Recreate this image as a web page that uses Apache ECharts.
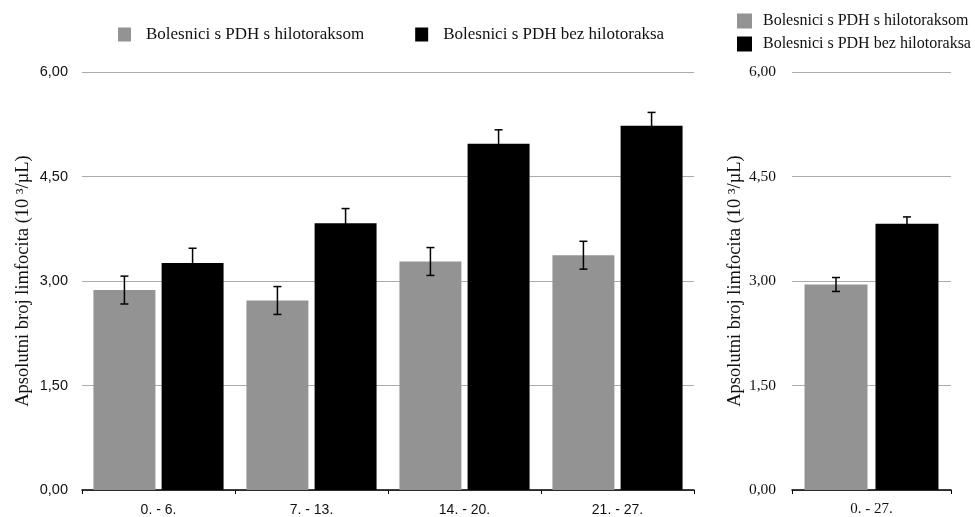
<!DOCTYPE html>
<html>
<head>
<meta charset="utf-8">
<script src="https://cdn.jsdelivr.net/npm/echarts@6/dist/echarts.min.js"></script>
<style>
html,body{margin:0;padding:0;background:#fff;}
#chart{width:975px;height:517px;}
</style>
</head>
<body>
<div id="chart"></div>
<script>
var categories = ['0. - 6.', '7. - 13.', '14. - 20.', '21. - 27.'];
var withChyloMean = [2.87, 2.72, 3.28, 3.37];
var withChyloErr = [0.20, 0.20, 0.20, 0.20];
var withoutChyloMean = [3.26, 3.83, 4.97, 5.23];
var withoutChyloErr = [0.21, 0.21, 0.20, 0.19];

var totalCategories = ['0. - 27.'];
var totalWithMean = [2.95];
var totalWithErr = [0.10];
var totalWithoutMean = [3.82];
var totalWithoutErr = [0.10];

var yTicks = [0, 1.5, 3, 4.5, 6];

var nameWith = 'Bolesnici s PDH s hilotoraksom';
var nameWithout = 'Bolesnici s PDH bez hilotoraksa';
var yName = 'Apsolutni broj limfocita (10 \u00B3/\u00B5L)';

var GRAY = '#939393';
var SERIF = '"Liberation Serif", "Times New Roman", serif';
var SANS = '"Liberation Sans", Arial, sans-serif';

function fmt(v){ return v.toFixed(2).replace('.', ','); }

function errData(means, errs){
  return means.map(function(m, i){ return [i, m - errs[i], m + errs[i]]; });
}

function makeErrRender(barPct, gapPct, side){
  return function(params, api){
    var idx = api.value(0);
    var lo = api.coord([idx, api.value(1)]);
    var hi = api.coord([idx, api.value(2)]);
    var band = api.size([1, 0])[0];
    var bw = band * barPct;
    var gap = bw * gapPct;
    var x = lo[0] + side * (bw + gap) / 2;
    var cap = 4;
    var style = {stroke: '#000', lineWidth: 1.5};
    return {
      type: 'group',
      children: [
        {type: 'line', shape: {x1: x, y1: lo[1], x2: x, y2: hi[1]}, style: style},
        {type: 'line', shape: {x1: x - cap, y1: hi[1], x2: x + cap, y2: hi[1]}, style: style},
        {type: 'line', shape: {x1: x - cap, y1: lo[1], x2: x + cap, y2: lo[1]}, style: style}
      ]
    };
  };
}

var yAxisCommon = function(font, size, margin, gap){
  return {
    type: 'value', min: 0, max: 6, interval: 1.5,
    axisLine: {show: false}, axisTick: {show: false},
    splitLine: {lineStyle: {color: '#ababab', width: 1}},
    axisLabel: {formatter: fmt, fontFamily: font, fontSize: size, color: '#111', margin: margin},
    name: yName, nameLocation: 'middle', nameRotate: 90, nameGap: gap,
    nameMoveOverlap: false,
    nameTextStyle: {fontFamily: SERIF, fontSize: 18.5, color: '#111'}
  };
};

var chart = echarts.init(document.getElementById('chart'));
chart.setOption({
  animation: false,
  backgroundColor: '#fff',
  legend: [
    {
      data: [nameWith, nameWithout],
      left: 113, top: 21, orient: 'horizontal',
      itemWidth: 13, itemHeight: 14, itemGap: 51,
      icon: 'rect',
      textStyle: {fontFamily: SERIF, fontSize: 17, color: '#111', padding: [0, 0, 0, 10]}
    },
    {
      data: [nameWith, nameWithout],
      left: 732, top: 8, orient: 'vertical',
      itemWidth: 15, itemHeight: 15, itemGap: 7,
      icon: 'rect',
      textStyle: {fontFamily: SERIF, fontSize: 16, color: '#111', padding: [0, 0, 0, 6]}
    }
  ],
  grid: [
    {left: 82, right: 281, top: 72, bottom: 27},
    {left: 792, width: 159, top: 72, bottom: 27}
  ],
  xAxis: [
    {
      type: 'category', gridIndex: 0, data: categories,
      axisLine: {lineStyle: {color: '#000', width: 1.5}},
      axisTick: {show: true, inside: false, length: 4, lineStyle: {color: '#000'}},
      axisLabel: {fontFamily: SANS, fontSize: 14, color: '#111', margin: 13}
    },
    {
      type: 'category', gridIndex: 1, data: totalCategories,
      axisLine: {lineStyle: {color: '#000', width: 1.5}},
      axisTick: {show: true, length: 4, lineStyle: {color: '#000'}},
      axisLabel: {fontFamily: SERIF, fontSize: 15, color: '#111', margin: 12}
    }
  ],
  yAxis: [
    Object.assign({gridIndex: 0}, yAxisCommon(SANS, 14.5, 14, 49)),
    Object.assign({gridIndex: 1}, yAxisCommon(SERIF, 15.5, 16, 47))
  ],
  series: [
    {
      name: nameWith, type: 'bar', xAxisIndex: 0, yAxisIndex: 0,
      data: withChyloMean, barWidth: '40.5%', barGap: '10%',
      itemStyle: {color: GRAY}
    },
    {
      name: nameWithout, type: 'bar', xAxisIndex: 0, yAxisIndex: 0,
      data: withoutChyloMean, barWidth: '40.5%', barGap: '10%',
      itemStyle: {color: '#000'}
    },
    {
      name: nameWith, type: 'bar', xAxisIndex: 1, yAxisIndex: 1,
      data: totalWithMean, barWidth: '39.6%', barGap: '12.7%',
      itemStyle: {color: GRAY}
    },
    {
      name: nameWithout, type: 'bar', xAxisIndex: 1, yAxisIndex: 1,
      data: totalWithoutMean, barWidth: '39.6%', barGap: '12.7%',
      itemStyle: {color: '#000'}
    },
    {
      name: 'errWith', type: 'custom', xAxisIndex: 0, yAxisIndex: 0, z: 10,
      renderItem: makeErrRender(0.405, 0.10, -1),
      data: errData(withChyloMean, withChyloErr)
    },
    {
      name: 'errWithout', type: 'custom', xAxisIndex: 0, yAxisIndex: 0, z: 10,
      renderItem: makeErrRender(0.405, 0.10, 1),
      data: errData(withoutChyloMean, withoutChyloErr)
    },
    {
      name: 'errTotalWith', type: 'custom', xAxisIndex: 1, yAxisIndex: 1, z: 10,
      renderItem: makeErrRender(0.396, 0.127, -1),
      data: errData(totalWithMean, totalWithErr)
    },
    {
      name: 'errTotalWithout', type: 'custom', xAxisIndex: 1, yAxisIndex: 1, z: 10,
      renderItem: makeErrRender(0.396, 0.127, 1),
      data: errData(totalWithoutMean, totalWithoutErr)
    }
  ]
});
</script>
</body>
</html>
